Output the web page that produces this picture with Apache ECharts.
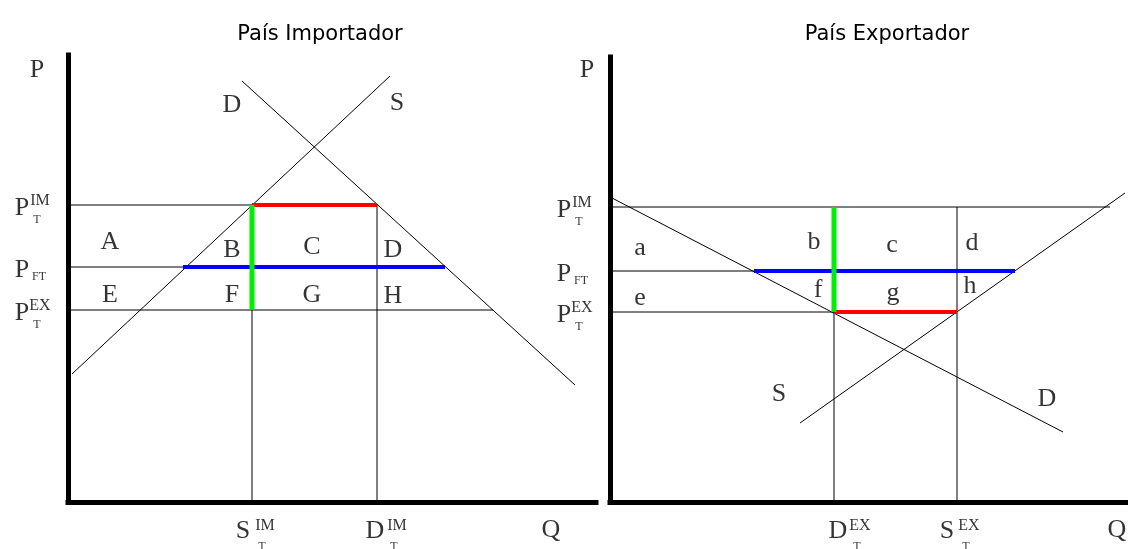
<!DOCTYPE html>
<html>
<head>
<meta charset="utf-8">
<script src="https://cdn.jsdelivr.net/npm/echarts@6/dist/echarts.min.js"></script>
<style>
    html, body { margin: 0; padding: 0; background: #fff; }
    #charts { width: 1128px; height: 549px; }
</style>
</head>
<body>
<div id="charts"></div>
<script>
// País Importador (left). Q across, P up, same units in both panels
var impPrices = [297, 235, 192];              // P_T^IM, P_FT, P_T^EX
var impQty = [184, 309];                      // S_T^IM, D_T^IM
var impSupply = [[4, 128], [322, 426]];
var impDemand = [[174, 421], [507, 117]];
var impPriceEnds = [309, 377, 425];           // where each price line stops
var impBlueFrom = 115;                        // S crosses P_FT
var impAreaNames = ['A', 'B', 'C', 'D', 'E', 'F', 'G', 'H'];
var impAreaSpots = [[42, 260], [164, 252], [244, 255], [325, 252], [42, 207], [164, 207], [244, 207], [325, 206]];
var impCurveNames = ['D', 'S'];
var impCurveSpots = [[164, 397], [329, 399]];

// País Exportador (right)
var expPrices = [295, 231, 190];
var expQty = [224, 347];                      // D_T^EX, S_T^EX
var expSupply = [[190, 79], [515, 309]];
var expDemand = [[2, 304], [453, 70]];
var expPriceEnds = [500, 405, 347];
var expBlueFrom = 144;                        // D crosses P_FT
var expAreaNames = ['a', 'b', 'c', 'd', 'e', 'f', 'g', 'h'];
var expAreaSpots = [[30, 254], [204, 260], [282, 257], [362, 259], [30, 204], [208, 212], [283, 209], [360, 216]];
var expCurveNames = ['S', 'D'];
var expCurveSpots = [[169, 108], [437, 103]];

// axis text: [main, superscript, subscript]
var priceTags = [['P', 'IM', 'T'], ['P', '', 'FT'], ['P', 'EX', 'T']];
var impQtyTags = [['S', 'IM', 'T'], ['D', 'IM', 'T']];
var expQtyTags = [['D', 'EX', 'T'], ['S', 'EX', 'T']];
var impQtyTagX = [175, 307];
var expQtyTagX = [228, 337];

var SERIF = '"Liberation Serif", "DejaVu Serif", serif';
var myChart = echarts.init(document.getElementById('charts'), null, { renderer: 'canvas' });

function seg(idx, pts, color, width) {
    return {
        type: 'line', xAxisIndex: idx, yAxisIndex: idx,
        data: pts, showSymbol: false, symbol: 'none', silent: true,
        lineStyle: { color: color, width: width }
    };
}

function tag(x, y, text, size, dx, dy) {
    return { value: [x, y], label: { formatter: text, fontSize: size, offset: [dx, dy] } };
}

function stacked(list, x, y, parts, supOff, subOff) {
    list.push(tag(x, y, parts[0], 26, 0, 0));
    if (parts[1]) list.push(tag(x, y, parts[1], 16, supOff[0], supOff[1]));
    if (parts[2]) {
        var off = parts[2] === 'FT' ? [17, 7] : subOff;
        list.push(tag(x, y, parts[2], 12, off[0], off[1]));
    }
}

function panel(idx, prices, qty, supply, demand, ends, blueFrom, redSeg, greenX,
               areaNames, areaSpots, curveNames, curveSpots, qtyTags, qtyTagX) {
    var s = [];
    s.push(seg(idx, supply, '#000', 1));
    s.push(seg(idx, demand, '#000', 1));
    prices.forEach(function (p, i) {
        s.push(seg(idx, [[0, p], [ends[i], p]], '#000', 1));
    });
    qty.forEach(function (q) {
        s.push(seg(idx, [[q, 0], [q, prices[0]]], '#000', 1));
    });
    s.push(seg(idx, [[blueFrom, prices[1]], [ends[1], prices[1]]], '#0000ff', 4));
    s.push(seg(idx, redSeg, '#ff0000', 4));
    s.push(seg(idx, [[greenX, prices[2]], [greenX, prices[0]]], '#00ee00', 5));

    var txt = [];
    areaNames.forEach(function (n, i) { txt.push(tag(areaSpots[i][0], areaSpots[i][1], n, 26, 0, 0)); });
    curveNames.forEach(function (n, i) { txt.push(tag(curveSpots[i][0], curveSpots[i][1], n, 26, 0, 0)); });
    priceTags.forEach(function (t, i) {
        stacked(txt, -46, prices[i] - 3, t, [18, -7], [15, 12]);
    });
    qtyTags.forEach(function (t, i) {
        stacked(txt, qtyTagX[i], -29, t, [22, -5], [19, 16]);
    });
    txt.push(tag(idx ? -23 : -31, 432, 'P', 26, 0, 0));
    txt.push(tag(idx ? 507 : 483, -28, 'Q', 26, 0, 0));
    s.push({
        type: 'scatter', xAxisIndex: idx, yAxisIndex: idx, clip: false, silent: true,
        symbolSize: 0, data: txt,
        label: {
            show: true, position: [0, 0], color: '#000', fontFamily: SERIF,
            align: 'center', verticalAlign: 'middle', textBorderWidth: 0
        }
    });
    return s;
}

var series = [].concat(
    panel(0, impPrices, impQty, impSupply, impDemand, impPriceEnds, impBlueFrom,
          [[impQty[0], impPrices[0]], [impQty[1], impPrices[0]]], impQty[0],
          impAreaNames, impAreaSpots, impCurveNames, impCurveSpots, impQtyTags, impQtyTagX),
    panel(1, expPrices, expQty, expSupply, expDemand, expPriceEnds, expBlueFrom,
          [[expQty[0], expPrices[2]], [expQty[1], expPrices[2]]], expQty[0],
          expAreaNames, expAreaSpots, expCurveNames, expCurveSpots, expQtyTags, expQtyTagX)
);

function axis(gridIndex, max) {
    return {
        type: 'value', gridIndex: gridIndex, min: 0, max: max,
        axisLine: { show: true, onZero: false, lineStyle: { color: '#000', width: 5, cap: 'square' } },
        axisTick: { show: false }, axisLabel: { show: false }, splitLine: { show: false }
    };
}

option = {
    animation: false,
    backgroundColor: '#fff',
    title: [
        { text: 'País Importador', left: 315, top: 19, textAlign: 'center',
          textStyle: { fontFamily: 'DejaVu Sans', fontSize: 21, fontWeight: 'normal', color: '#000' } },
        { text: 'País Exportador', left: 882, top: 19, textAlign: 'center',
          textStyle: { fontFamily: 'DejaVu Sans', fontSize: 21, fontWeight: 'normal', color: '#000' } }
    ],
    grid: [
        { left: 68, top: 55, width: 528, height: 447 },
        { left: 610, top: 57, width: 518, height: 445 }
    ],
    xAxis: [axis(0, 528), axis(1, 518)],
    yAxis: [axis(0, 447), axis(1, 445)],
    series: series
};
myChart.setOption(option);
</script>
</body>
</html>
